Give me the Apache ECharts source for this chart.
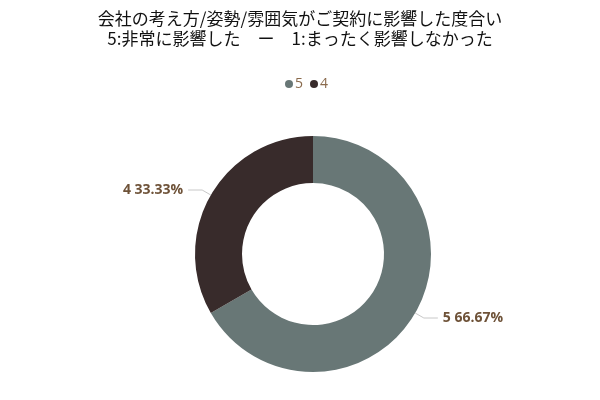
<!DOCTYPE html>
<html>
<head>
<meta charset="utf-8">
<script src="https://cdn.jsdelivr.net/npm/echarts@6/dist/echarts.min.js"></script>
<style>
  html, body { margin: 0; padding: 0; background: #fff; }
  #chart { width: 600px; height: 400px; }
</style>
</head>
<body>
<div id="chart"></div>
<script type="text/javascript">

var titleText = '会社の考え方/姿勢/雰囲気がご契約に影響した度合い\n5:非常に影響した　ー　1:まったく影響しなかった';
var categories = ['5', '4'];
var values = [2, 1];
var colors = ['#687776', '#382b2b'];

var chart = echarts.init(document.getElementById('chart'));

var pieData = [];
for (var i = 0; i < categories.length; i++) {
    pieData.push({ name: categories[i], value: values[i], itemStyle: { color: colors[i] } });
}

var option = {
    backgroundColor: '#ffffff',
    animation: false,
    title: {
        left: 'center',
        top: 4,
        text: titleText,
        textStyle: {
            color: '#111111',
            fontSize: 17,
            fontWeight: 'normal',
            lineHeight: 20,
            fontFamily: '"Noto Sans CJK JP", sans-serif'
        }
    },
    legend: {
        top: 72,
        left: 280,
        icon: 'circle',
        itemWidth: 8,
        itemHeight: 8,
        itemGap: 7,
        data: categories,
        textStyle: {
            color: '#8a6a4c',
            fontSize: 14,
            padding: [0, 0, 0, -3],
            fontFamily: '"Open Sans", sans-serif'
        }
    },
    series: [
        {
            name: '影響度',
            type: 'pie',
            center: [313, 254],
            radius: [71, 118],
            startAngle: 90,
            clockwise: true,
            data: pieData,
            label: {
                show: true,
                formatter: '{b} {d}%',
                color: '#6e5238',
                fontSize: 14,
                fontWeight: 'bold',
                fontFamily: '"Open Sans", sans-serif'
            },
            labelLine: {
                show: true,
                length: 10,
                length2: 14,
                lineStyle: { color: '#c8c8c8', width: 1 }
            },
            itemStyle: { borderColor: '#ffffff', borderWidth: 0 }
        }
    ]
};

chart.setOption(option);

</script>
</body>
</html>
